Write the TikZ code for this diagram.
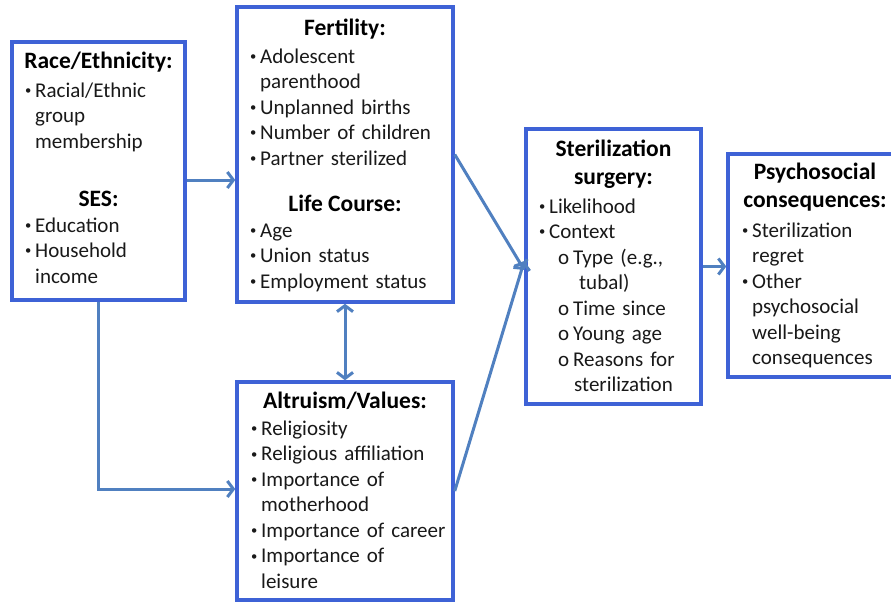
\documentclass[tikz,border=0pt]{standalone}
\usepackage{fontspec}
\setmainfont{Carlito}
\usetikzlibrary{arrows.meta,calc}
\definecolor{boxblue}{RGB}{62,98,214}
\definecolor{arrowblue}{RGB}{80,128,192}
\newcommand{\bul}{\makebox[10pt][l]{\raisebox{0.25ex}{\scalebox{0.6}{•}}}}
\newcommand{\sbul}{\makebox[15pt][l]{o}}
\newcommand{\ind}{\hspace*{10pt}}
\begin{document}
\begin{tikzpicture}[x=1pt,y=-1pt,
  box/.style={draw=boxblue, line width=3.5pt, fill=white, inner sep=0pt},
  ttl/.style={font=\fontsize{23.5}{27}\selectfont\bfseries, anchor=base, inner sep=0pt, text=black},
  body/.style={font=\fontsize{21}{25.5}\selectfont, anchor=base west, inner sep=0pt, text=black!90, text width=260pt, align=left},
  arr/.style={draw=arrowblue, line width=3pt, -{Straight Barb[length=6pt,width=16pt]}},
  darr/.style={draw=arrowblue, line width=3pt, {Straight Barb[length=6pt,width=16pt]}-{Straight Barb[length=6pt,width=16pt]}}]
\clip (0,0) rectangle (891,603);
\fill[white] (0,0) rectangle (891,603);
% boxes
\node[box, minimum width=173pt, minimum height=258pt] (race) at (98.5,171) {};
\node[box, minimum width=216pt, minimum height=295pt] (fert) at (345,154.5) {};
\node[box, minimum width=216pt, minimum height=218pt] (alt) at (345,491) {};
\node[box, minimum width=175pt, minimum height=275pt] (ster) at (613.5,266.5) {};
\node[box, minimum width=174pt, minimum height=223pt] (psy) at (815,265.5) {};
% race / SES
\node[ttl] (raceT) at (98.5,68) {Race/Ethnicity:};
\node[body] (raceB) at (25,97) {\bul Racial/Ethnic\\\ind group\\\ind membership};
\node[ttl] (sesT) at (98.5,206) {SES:};
\node[body] (sesB) at (25,232) {\bul Education\\\bul Household\\\ind income};
% fertility / life course
\node[ttl] (fertT) at (345,35) {Fertility:};
\node[body] (fertB) at (250,63) {\bul Adolescent\\\ind parenthood\\\bul Unplanned births\\\bul Number of children\\\bul Partner sterilized};
\node[ttl] (lifeT) at (345,211) {Life Course:};
\node[body] (lifeB) at (250,237) {\bul Age\\\bul Union status\\\bul Employment status};
% altruism
\node[ttl] (altT) at (345,408) {Altruism/Values:};
\node[body] (altB) at (251,435) {\bul Religiosity\\\bul Religious affiliation\\\bul Importance of\\\ind motherhood\\\bul Importance of career\\\bul Importance of\\\ind leisure};
% sterilization
\node[ttl] (sterT) at (613.5,156) {Sterilization};
\node[ttl] (sterT2) at (613.5,184) {surgery:};
\node[body] (sterB) at (539,213) {\bul Likelihood\\\bul Context\\\hspace*{19pt}\sbul Type (e.g.,\\\hspace*{40pt}tubal)\\\hspace*{19pt}\sbul Time since\\\hspace*{19pt}\sbul Young age\\\hspace*{19pt}\sbul Reasons for\\\hspace*{35pt}sterilization};
% psychosocial
\node[ttl] (psyT) at (815,179) {Psychosocial};
\node[ttl] (psyT2) at (815,207) {consequences:};
\node[body] (psyB) at (742,237) {\bul Sterilization\\\ind regret\\\bul Other\\\ind psychosocial\\\ind well-being\\\ind consequences};
% connectors
\draw[arr] ([yshift=-9pt]race.east) -- ([yshift=-9pt]race.east -| fert.west);
\draw[arr] (race.south) |- ([yshift=2pt]alt.west);
\draw[darr] (fert.south) -- (alt.north);
\draw[arr] (fert.east) -- ([yshift=-3.5pt]ster.west);
\draw[arr] (alt.east) -- ([yshift=5.5pt]ster.west);
\draw[arr] (ster.east) -- (ster.east -| psy.west);
\end{tikzpicture}
\end{document}
